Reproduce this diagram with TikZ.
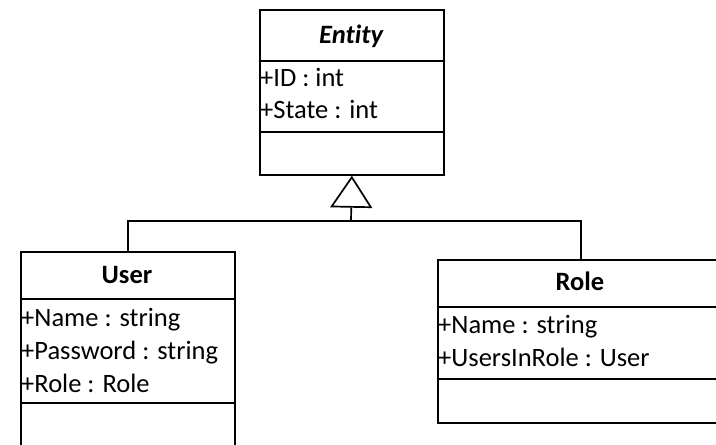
\documentclass[tikz,border=0pt]{standalone}
\usepackage{fontspec}
\setmainfont{Carlito}[Ligatures={NoCommon}]
\usetikzlibrary{arrows.meta}
\begin{document}
\begin{tikzpicture}[x=1pt, y=-1pt,
  classbox/.style={draw, line width=1.7pt, rectangle, inner sep=0pt, anchor=north west},
  classname/.style={font=\fontsize{26.5}{31}\selectfont\bfseries, anchor=base, inner sep=0pt},
  attr/.style={font=\fontsize{26.5}{31}\selectfont, anchor=base west, inner sep=0pt},
  rule/.style={line width=1.7pt},
  link/.style={line width=1.7pt}]

\useasboundingbox (0,0) rectangle (716,445);
\clip (0,0) rectangle (716,445);

% Entity (abstract base class)
\node[classbox, minimum width=184pt, minimum height=165pt] (entity) at (259,9) {};
\draw[rule] ([yshift=-52pt]entity.north west) -- ([yshift=-52pt]entity.north east);
\draw[rule] ([yshift=-123pt]entity.north west) -- ([yshift=-123pt]entity.north east);
\node[classname, font=\fontsize{26.5}{31}\selectfont\bfseries\itshape] (entity-name) at (351,43) {Entity};
\node[attr] (entity-id) at (260,86) {+ID : int};
\node[attr] (entity-state) at (260,118) {+State : int};

% User
\node[classbox, minimum width=214pt, minimum height=196pt] (user) at (20,251) {};
\draw[rule] ([yshift=-48pt]user.north west) -- ([yshift=-48pt]user.north east);
\draw[rule] ([yshift=-152pt]user.north west) -- ([yshift=-152pt]user.north east);
\node[classname] (user-name) at (127,283) {User};
\node[attr] (user-a1) at (21,326) {+Name : string};
\node[attr] (user-a2) at (21,359) {+Password : string};
\node[attr] (user-a3) at (21,392) {+Role : Role};

% Role
\node[classbox, minimum width=286pt, minimum height=163pt] (role) at (437,259) {};
\draw[rule] ([yshift=-48pt]role.north west) -- ([yshift=-48pt]role.north east);
\draw[rule] ([yshift=-120pt]role.north west) -- ([yshift=-120pt]role.north east);
\node[classname] (role-name) at (580,290) {Role};
\node[attr] (role-a1) at (438,333) {+Name : string};
\node[attr] (role-a2) at (438,366) {+UsersInRole : User};

% Generalization
\coordinate (split) at (351,221);
\draw[link] (user.north) |- (split) -| (role.north);
\draw[link, -{Triangle[open, length=32pt, width=42pt, line width=1.7pt]}] (split) -- (entity.south);
\end{tikzpicture}
\end{document}
